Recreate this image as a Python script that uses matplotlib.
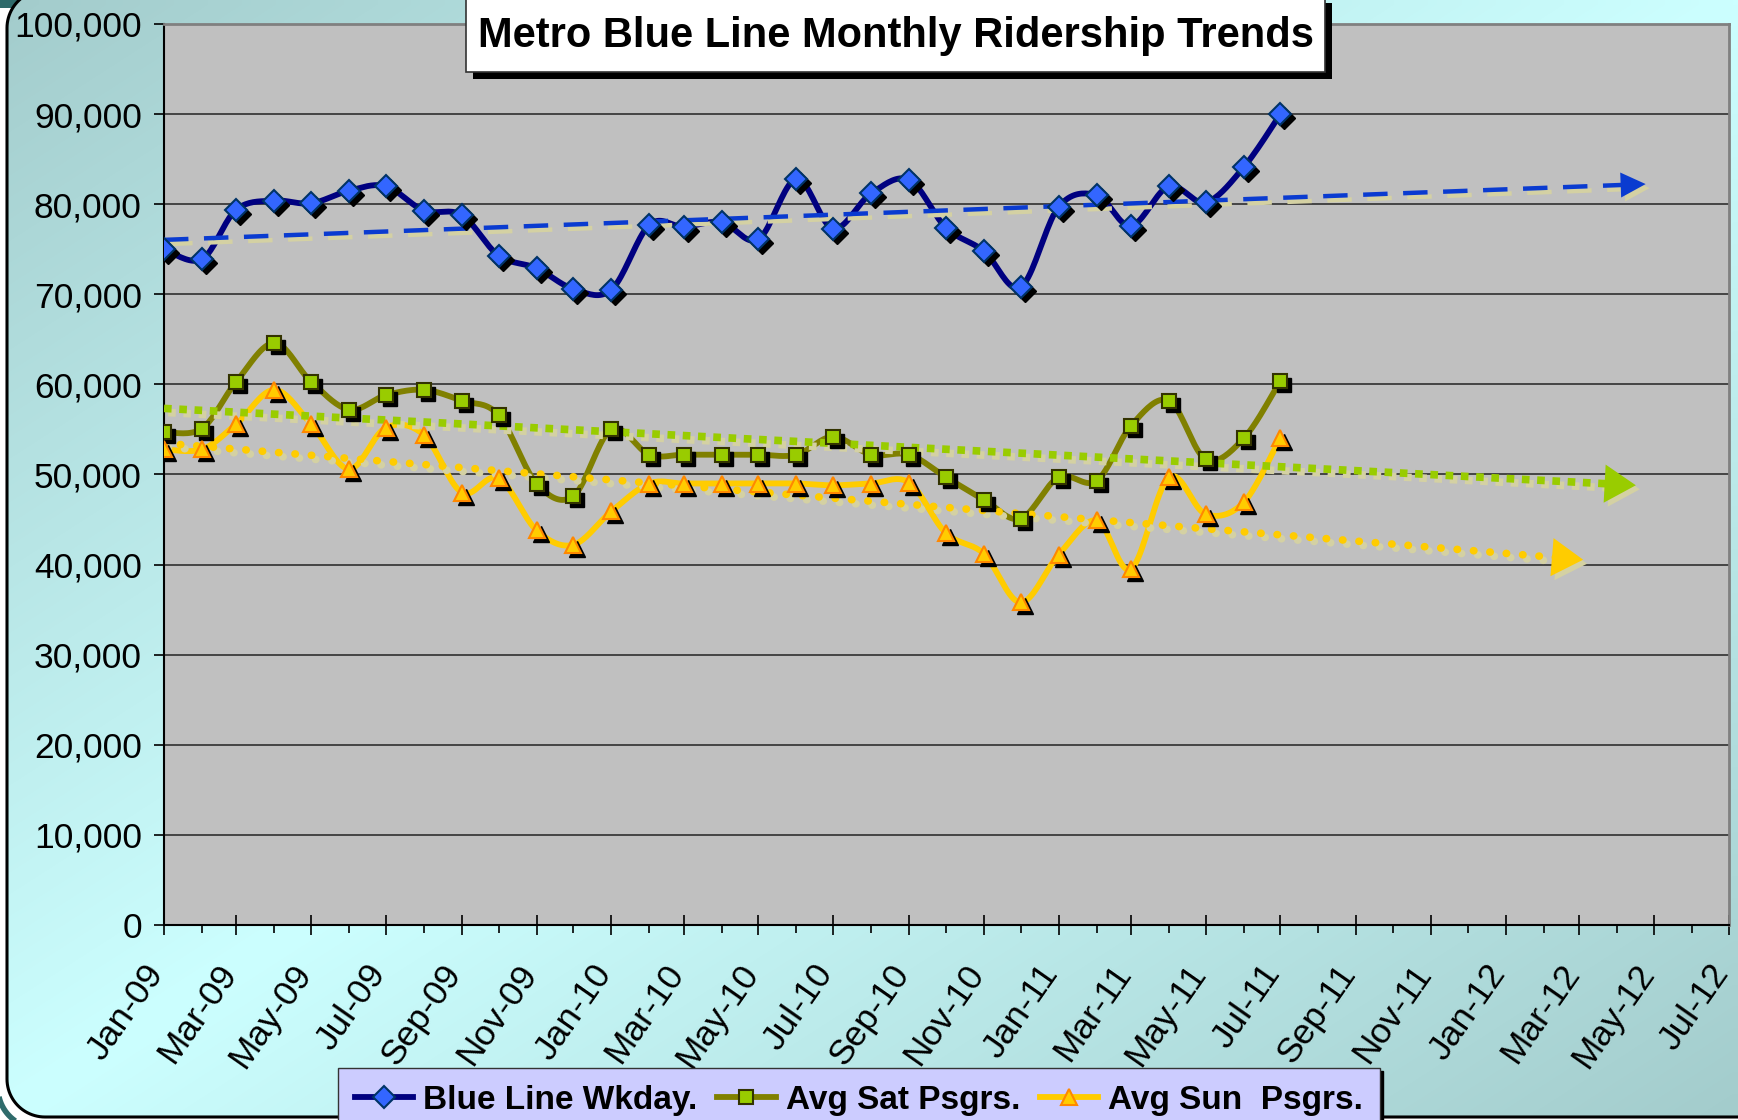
import matplotlib

matplotlib.use("Agg")
import matplotlib.dates as mdates
import matplotlib.patheffects as pe
import matplotlib.pyplot as plt
import numpy as np
import pandas as pd
from matplotlib.patches import PathPatch, Rectangle
from matplotlib.path import Path
from matplotlib.transforms import ScaledTranslation, offset_copy

plt.rcParams["font.family"] = ["Liberation Sans", "DejaVu Sans"]

# ---- data ----------------------------------------------------------------
MONTHS = pd.date_range("2009-01-01", "2011-07-01", freq="MS")
WKDAY = [75000, 73900, 79400, 80400, 80100, 81500, 82000, 79300, 78800,
         74300, 72900, 70600, 70500, 77700, 77500, 78000, 76100, 82800,
         77300, 81200, 82700, 77400, 74800, 70800, 79700, 81000, 77600,
         82000, 80200, 84100, 90000]
SAT = [54700, 55100, 60300, 64600, 60300, 57200, 58800, 59400, 58200,
       56600, 49000, 47600, 55000, 52200, 52200, 52200, 52200, 52200,
       54200, 52200, 52200, 49700, 47200, 45100, 49700, 49300, 55400,
       58200, 51700, 54000, 60400]
SUN = [52800, 52800, 55600, 59400, 55600, 50600, 55200, 54400, 48000,
       49600, 43800, 42200, 45900, 49000, 49000, 49000, 49000, 49000,
       48800, 49000, 49100, 43500, 41200, 35800, 41100, 44900, 39500,
       49700, 45600, 46900, 54100]
LABELS = ["Blue Line Wkday.", "Avg Sat Psgrs.", "Avg Sun  Psgrs."]
TITLE = "Metro Blue Line Monthly Ridership Trends"

W, H = 1738, 1120
SHADOW = "#d4d1a3"
TEAL = "#2f6b6b"


def smooth(x, y, n=20):
    """Excel-style smoothed line: cubic Bezier with 1/6 tangents."""
    p = np.column_stack([x, y]).astype(float)
    ext = np.vstack([p[0], p, p[-1]])
    t = np.linspace(0, 1, n, endpoint=False)[:, None]
    segs = []
    for i in range(len(p) - 1):
        p0, p1, p2, p3 = ext[i], ext[i + 1], ext[i + 2], ext[i + 3]
        c1 = p1 + (p2 - p0) / 6
        c2 = p2 - (p3 - p1) / 6
        segs.append((1 - t) ** 3 * p1 + 3 * (1 - t) ** 2 * t * c1
                    + 3 * (1 - t) * t ** 2 * c2 + t ** 3 * p2)
    segs.append(p[-1:])
    out = np.vstack(segs)
    return out[:, 0], out[:, 1]


def rounded_rect(x0, y0, x1, y1, r, n=24):
    """Closed path of a rectangle with round corners (pixel units)."""
    pts = []
    for cx, cy, a0 in ((x1 - r, y0 + r, -90), (x1 - r, y1 - r, 0),
                       (x0 + r, y1 - r, 90), (x0 + r, y0 + r, 180)):
        a = np.radians(np.linspace(a0, a0 + 90, n))
        pts.append(np.column_stack([cx + r * np.cos(a), cy + r * np.sin(a)]))
    pts = np.vstack(pts + [pts[0][:1]])
    return Path(pts, closed=True)


fig = plt.figure(figsize=(W / 100, H / 100), dpi=100)
fig.patch.set_facecolor("white")

# ---- background: rounded panel with diagonal teal/cyan gradient ---------
bg = fig.add_axes([0, 0, 1, 1], zorder=-5)
bg.set_xlim(0, W)
bg.set_ylim(0, H)
bg.axis("off")
bg.add_patch(Rectangle((0, H - 8), 45, 8, facecolor=TEAL, edgecolor="none"))
bg.add_patch(PathPatch(rounded_rect(-2, -8, W + 60, H + 60, 40),
                       facecolor="none", edgecolor=TEAL, lw=4))
yy, xx = np.mgrid[0:1:120j, 0:1:180j]
tone = 1 - np.abs(xx - yy)
dark = np.array([0.64, 0.80, 0.80])
light = np.array([0.80, 1.00, 1.00])
grad = dark + tone[..., None] * (light - dark)
panel = PathPatch(rounded_rect(7, 3, W + 60, H + 10, 38),
                  facecolor="none", edgecolor="black", lw=2.2, zorder=2)
bg.add_patch(panel)
im = bg.imshow(grad, extent=[0, W, 0, H], origin="lower", aspect="auto",
               interpolation="bilinear", zorder=1)
im.set_clip_path(panel)
bg.set_xlim(0, W)
bg.set_ylim(0, H)

# ---- main axes ----------------------------------------------------------
ax = fig.add_axes([164 / W, 1 - 925 / H, (1729 - 164) / W, (925 - 24) / H])
ax.set_facecolor("#c0c0c0")
xn = mdates.date2num(MONTHS)
ax.set_xlim(mdates.date2num(pd.Timestamp("2009-01-01")),
            mdates.date2num(pd.Timestamp("2012-07-01")))
ax.set_ylim(0, 100000)
ax.set_yticks(np.arange(0, 100001, 10000))
ax.yaxis.set_major_formatter(matplotlib.ticker.FuncFormatter(
    lambda v, _: f"{int(v):,}"))
ax.xaxis.set_major_locator(mdates.MonthLocator(bymonth=[1, 3, 5, 7, 9, 11]))
ax.xaxis.set_minor_locator(mdates.MonthLocator())
ax.xaxis.set_major_formatter(mdates.DateFormatter("%b-%y"))
ax.grid(axis="y", color="#3a3a3a", lw=1.3)
ax.set_axisbelow(True)
for side in ("top", "right"):
    ax.spines[side].set_color("#808080")
    ax.spines[side].set_linewidth(2)
for side in ("left", "bottom"):
    ax.spines[side].set_color("black")
    ax.spines[side].set_linewidth(1.5)
ax.tick_params(axis="y", direction="out", length=7, width=1.2, pad=9,
               labelsize=25.5)
ax.tick_params(axis="x", which="major", direction="inout", length=14,
               width=1.2, pad=24, labelsize=25.5)
ax.tick_params(axis="x", which="minor", direction="out", length=6,
               width=1.2)
shift = ScaledTranslation(-7 / 100, 0, fig.dpi_scale_trans)
for lab in ax.get_xticklabels():
    lab.set_rotation(55)
    lab.set_ha("right")
    lab.set_va("center")
    lab.set_rotation_mode("anchor")
    lab.set_transform(lab.get_transform() + shift)

series = [
    (WKDAY, "#000080", "D", "#3366ff", "#003366", 11),
    (SAT, "#808000", "s", "#99cc00", "#333300", 9.5),
    (SUN, "#ffcc00", "^", "#ffcc00", "#ff8800", 11),
]
shadow_tr = offset_copy(ax.transData, fig=fig, x=4, y=-4, units="dots")
handles = []
for vals, lc, mk, mfc, mec, ms in series:
    sx, sy = smooth(xn, vals)
    ax.plot(sx, sy, color=lc, lw=4.2, zorder=3, solid_capstyle="round")
    ax.plot(xn, vals, ls="none", marker=mk, ms=ms, color="black",
            transform=shadow_tr, zorder=5)
    ax.plot(xn, vals, ls="none", marker=mk, ms=ms, mfc=mfc, mec=mec,
            mew=1.5, zorder=6)
    h, = ax.plot([], [], color=lc, lw=4.2, marker=mk, ms=ms, mfc=mfc,
                 mec=mec, mew=1.5)
    handles.append(h)

# ---- linear trendlines with forward forecast ----------------------------
trends = [
    (WKDAY, "#0a3bd0", dict(lw=3.2, dashes=(5.5, 3.5)), 298, 0.45, 20),
    (SAT, "#99cc00", dict(lw=5.5, dashes=(1, 1)), 290, 0.55, 25),
    (SUN, "#ffcc00", dict(lw=5.5, dashes=(0.05, 2.1),
                          dash_capstyle="round"), 247, 0.55, 25),
]
for vals, col, style, fwd, hw, msc in trends:
    k, b = np.polyfit(xn, vals, 1)
    tip = xn[-1] + fwd
    head = 20
    tx = np.array([xn[0], tip - head])
    ax.plot(tx, k * tx + b, color=col, zorder=4,
            path_effects=[pe.SimpleLineShadow(offset=(3, -3),
                                              shadow_color=SHADOW, alpha=1),
                          pe.Normal()], **style)
    for tr, c in ((offset_copy(ax.transData, fig=fig, x=4, y=-4,
                               units="dots"), SHADOW), (ax.transData, col)):
        ax.annotate("", xy=(tip, k * tip + b),
                    xytext=(tip - head, k * (tip - head) + b),
                    xycoords=tr, textcoords=tr, zorder=4,
                    arrowprops=dict(arrowstyle=f"-|>,head_length=0.9,"
                                               f"head_width={hw}",
                                    color=c, lw=0, shrinkA=0, shrinkB=0,
                                    mutation_scale=msc))

# ---- title box ------------------------------------------------------------
bx0, bx1, by0, by1 = 466, 1325, -4, 72
fig.patches.append(Rectangle(((bx0 + 7) / W, 1 - (by1 + 7) / H),
                             (bx1 - bx0) / W, (by1 - by0) / H,
                             transform=fig.transFigure, facecolor="black",
                             edgecolor="none", zorder=8))
fig.patches.append(Rectangle((bx0 / W, 1 - by1 / H), (bx1 - bx0) / W,
                             (by1 - by0) / H, transform=fig.transFigure,
                             facecolor="white", edgecolor="#333333",
                             lw=1.2, zorder=9))
fig.text((bx0 + bx1) / 2 / W, 1 - 36 / H, TITLE, ha="center", va="center",
         fontsize=30, fontweight="bold", zorder=10)

# ---- legend -----------------------------------------------------------------
leg = fig.legend(handles, LABELS, loc="upper left",
                 bbox_to_anchor=(338 / W, 1 - 1068 / H), ncol=3,
                 prop=dict(weight="bold", size=24),
                 frameon=True, fancybox=False,
                 shadow=dict(color="black", alpha=1),
                 handlelength=1.75, handletextpad=0.3, columnspacing=0.6,
                 borderpad=0.5, borderaxespad=0)
leg.get_frame().set_facecolor("#ccccff")
leg.get_frame().set_edgecolor("#333333")
leg.get_frame().set_alpha(1)

fig.savefig("out.png", dpi=100)
